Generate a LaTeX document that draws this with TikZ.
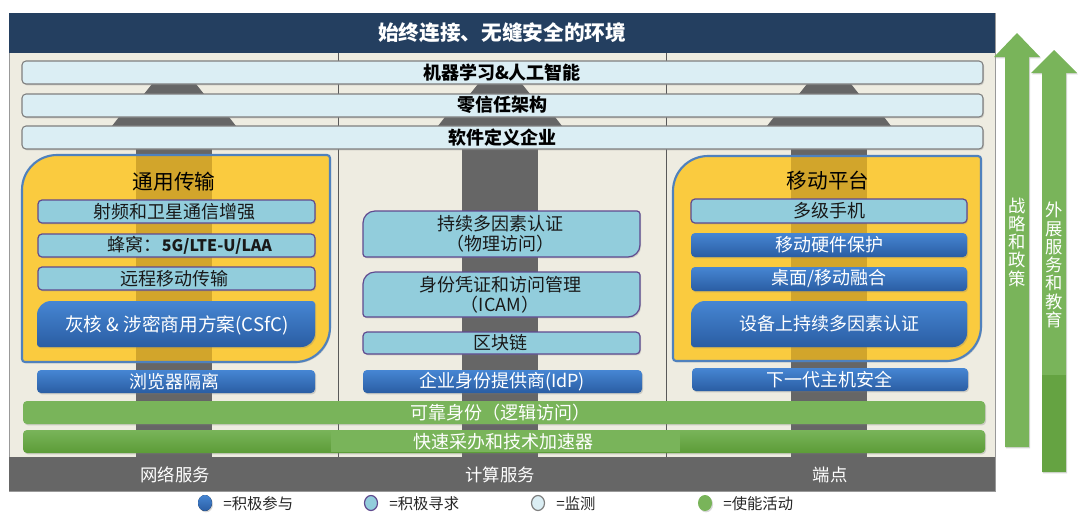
\documentclass[tikz,border=0pt]{standalone}
\usepackage{fontspec}
\setmainfont{Noto Sans CJK SC}
\usetikzlibrary{shadows}
\definecolor{navy}{HTML}{243F60}
\definecolor{beige}{HTML}{EEECE1}
\definecolor{pillarc}{HTML}{666666}
\definecolor{palec}{HTML}{DBEEF4}
\definecolor{paleb}{HTML}{7F7F7F}
\definecolor{lbluec}{HTML}{92CDDC}
\definecolor{purpc}{HTML}{604A8F}
\definecolor{dkA}{HTML}{4686D3}
\definecolor{dkB}{HTML}{2A5DA3}
\definecolor{yelc}{HTML}{FACB3F}
\definecolor{ystrip}{HTML}{D2A52B}
\definecolor{ybord}{HTML}{4F81BD}
\definecolor{grnc}{HTML}{79B45A}
\definecolor{grnd}{HTML}{5C9C37}
\definecolor{divc}{HTML}{595959}
\newcommand{\rdbox}[7][]{%
  \path[#1] (#2,#3+#6) arc[start angle=180,end angle=270,radius=#6]
    -- (#4-#7,#3) arc[start angle=270,end angle=360,radius=#7]
    -- (#4,#5-#6) arc[start angle=0,end angle=90,radius=#6]
    -- (#2+#7,#5) arc[start angle=90,end angle=180,radius=#7] -- cycle;}
\tikzset{
  shad/.style={drop shadow={shadow xshift=0.8pt,shadow yshift=-1pt,opacity=0.3}},
  palebar/.style={draw=paleb,fill=palec,line width=0.8pt,rounded corners=3pt,shad},
  lbbox/.style={draw=purpc,fill=lbluec,line width=0.9pt,shad},
  dkbox/.style={top color=dkA,bottom color=dkB,draw=none,shad},
  grnbar/.style={fill=grnc,draw=none,rounded corners=3pt,shad},
  btxt/.style={inner sep=0pt,font=\bfseries\fontsize{13.5}{16}\selectfont,text=black},
  ntxt/.style={inner sep=0pt,font=\fontsize{13.5}{15}\selectfont,text=black!90,align=center},
  wtxt/.style={inner sep=0pt,font=\fontsize{13.5}{15}\selectfont,text=white,align=center},
  htxt/.style={inner sep=0pt,font=\fontsize{15.5}{17}\selectfont,text=black},
  vtxt/.style={inner sep=0pt,font=\fontsize{13}{13.7}\selectfont,text=white,align=center},
  legtxt/.style={inner sep=0pt,anchor=west,font=\fontsize{11.5}{13}\selectfont,text=black!85},
}
\begin{document}
\begin{tikzpicture}[x=0.75pt,y=-0.75pt]
\useasboundingbox (0,0) rectangle (1080,526);
\fill[white] (0,0) rectangle (1080,526);
% frame
\fill[beige] (9,53) rectangle (995,457);
\draw[black!40,line width=0.6pt] (9,13) rectangle (995,491);
\fill[navy] (9,13) rectangle (995,53);
\node[inner sep=0pt,font=\bfseries\fontsize{15.5}{17}\selectfont,text=white] (title) at (502,33) {始终连接、无缝安全的环境};
% column dividers
\draw[divc,line width=0.7pt] (338,53) -- (338,457);
\draw[divc,line width=0.7pt] (666,53) -- (666,457);
% pillars
\foreach \c in {174,500,829}{
  \fill[pillarc] (\c-22,84) -- (\c+22,84) -- (\c+30,94) -- (\c-30,94) -- cycle;
  \fill[pillarc] (\c-55,117) -- (\c+55,117) -- (\c+62,126) -- (\c-62,126) -- cycle;
  \fill[pillarc] (\c-38,149) rectangle (\c+38,457);
}
% top bars
\draw[palebar] (22,61) rectangle (983,84);
\node[btxt] (ml) at (502,73) {机器学习\&人工智能};
\draw[palebar] (22,94) rectangle (983,117);
\node[btxt] (zt) at (502,105) {零信任架构};
\draw[palebar] (22,126) rectangle (983,149);
\node[btxt] (sde) at (502,137.5) {软件定义企业};
% left yellow group
\rdbox[fill=yelc,shad]{22}{155}{330}{362}{35}{3}
\fill[ystrip] (136,156) rectangle (212,361);
\rdbox[draw=ybord,line width=1.6pt]{22}{155}{330}{362}{35}{3}
\node[htxt] (gt) at (174,182) {通用传输};
\draw[lbbox,rounded corners=3pt] (38,200) rectangle (315,223);
\node[ntxt] (rf) at (174,212) {射频和卫星通信增强};
\draw[lbbox,rounded corners=3pt] (38,234) rectangle (315,257);
\node[ntxt] (cell) at (190,245.5) {蜂窝：{\bfseries\fontsize{12}{14}\selectfont 5G/LTE-U/LAA}};
\draw[lbbox,rounded corners=3pt] (38,267) rectangle (315,290);
\node[ntxt] (rmt) at (174,278.5) {远程移动传输};
\rdbox[dkbox]{37}{301}{315}{347}{14}{3}
\node[wtxt,font=\fontsize{14}{16}\selectfont] (csfc) at (177,325) {灰核 \& 涉密商用方案(CSfC)};
\draw[dkbox,rounded corners=3pt] (37,370) rectangle (315,393);
\node[wtxt] (bi) at (174,381.5) {浏览器隔离};
% middle column
\rdbox[lbbox]{363}{211}{640}{257}{12}{3}
\node[ntxt,font=\fontsize{13.5}{15}\selectfont] (mfa) at (500,234) {持续多因素认证\\（物理访问）};
\rdbox[lbbox]{363}{272}{640}{317}{12}{3}
\node[ntxt] (icam) at (500,295) {身份凭证和访问管理\\（ICAM）};
\draw[lbbox,rounded corners=3pt] (363,332) rectangle (640,354);
\node[ntxt] (bc) at (500,343) {区块链};
\draw[dkbox,rounded corners=3pt] (363,370) rectangle (642,393);
\node[wtxt] (idp) at (502,381.5) {企业身份提供商(IdP)};
% right yellow group
\rdbox[fill=yelc,shad]{673}{156}{981}{361}{35}{3}
\fill[ystrip] (791,157) rectangle (867,360);
\rdbox[draw=ybord,line width=1.6pt]{673}{156}{981}{361}{35}{3}
\node[htxt] (mp) at (828,181) {移动平台};
\draw[lbbox,rounded corners=3pt] (691,199) rectangle (967,223);
\node[ntxt] (mlh) at (829,211) {多级手机};
\draw[dkbox,rounded corners=3pt] (691,233) rectangle (967,257);
\node[wtxt] (mhp) at (829,245) {移动硬件保护};
\draw[dkbox,rounded corners=3pt] (691,267) rectangle (967,291);
\node[wtxt] (dmc) at (829,279) {桌面/移动融合};
\rdbox[dkbox]{691}{301}{967}{347}{14}{3}
\node[wtxt] (dmfa) at (829,324) {设备上持续多因素认证};
\draw[dkbox,rounded corners=3pt] (692,368) rectangle (968,391);
\node[wtxt] (ngh) at (829,380) {下一代主机安全};
% green bars
\draw[grnbar] (23,401) rectangle (985,424);
\node[wtxt] (rid) at (500,412.5) {可靠身份（逻辑访问）};
\draw[top color=grnc,bottom color=grnd,draw=none,rounded corners=3pt,shad] (23,430) rectangle (985,453);
\fill[grnc] (331,431) rectangle (680,452);
\node[wtxt] (acc) at (503,441.5) {快速采办和技术加速器};
% bottom bar
\fill[pillarc] (9,457) rectangle (995,491);
\node[wtxt,font=\fontsize{13}{15}\selectfont] (ns) at (175,475) {网络服务};
\node[wtxt,font=\fontsize{13}{15}\selectfont] (cs) at (500,475) {计算服务};
\node[wtxt,font=\fontsize{13}{15}\selectfont] (ep) at (830,475) {端点};
% legend
\fill[dkbox] (205,503) ellipse[x radius=7,y radius=8];
\node[legtxt] (l1) at (223,504) {=积极参与};
\filldraw[fill=lbluec,draw=purpc,line width=0.9pt] (371,503) ellipse[x radius=6.5,y radius=7.5];
\node[legtxt] (l2) at (389,504) {=积极寻求};
\filldraw[fill=palec,draw=paleb,line width=0.9pt] (538,503) ellipse[x radius=6.5,y radius=7.5];
\node[legtxt] (l3) at (556,504) {=监测};
\fill[grnc,shad] (705,503) ellipse[x radius=7,y radius=8];
\node[legtxt] (l4) at (723,504) {=使能活动};
% arrows
\fill[grnc,shad] (1005,447) -- (1005,57) -- (994,57) -- (1017,33) -- (1040,57) -- (1029,57) -- (1029,447) -- cycle;
\node[vtxt] (a1) at (1017,242) {战\\略\\和\\政\\策};
\fill[grnc,shad] (1042,472) -- (1042,73) -- (1031,73) -- (1054,50) -- (1077,73) -- (1066,73) -- (1066,472) -- cycle;
\fill[grnd!70!grnc] (1042,375) rectangle (1066,472);
\node[vtxt] (a2) at (1054,265) {外\\展\\服\\务\\和\\教\\育};
\end{tikzpicture}
\end{document}
